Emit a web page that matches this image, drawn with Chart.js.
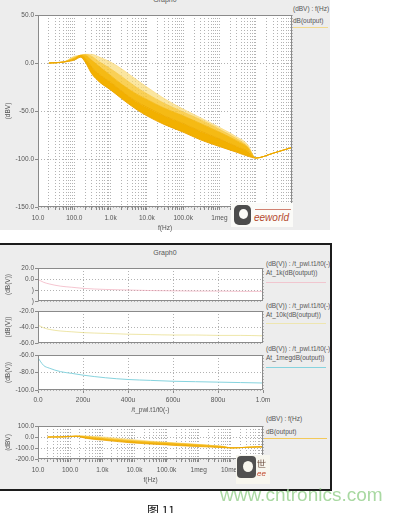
<!DOCTYPE html>
<html>
<head>
<meta charset="utf-8">
<script src="https://cdn.jsdelivr.net/npm/chart.js@4.4.1/dist/chart.umd.min.js"></script>
<style>
html, body { margin: 0; padding: 0; background: #fff; }
body { position: relative; width: 404px; height: 513px; overflow: hidden; font-family: 'Liberation Sans', Arial, sans-serif; }
canvas { position: absolute; left: 0; }
.txt { position: absolute; font-size: 6.5px; line-height: 8px; white-space: nowrap; color: #555; }
.swatch { position: absolute; height: 1px; }
</style>
</head>
<body>

<!-- AC sweep panel -->
<div style="position:absolute;left:0;top:0;width:330px;height:230px;background:#ededed"></div>
<div class="txt" style="left:140px;top:-4px;width:50px;text-align:center;font-size:7px">Graph0</div>
<div class="txt" style="left:293px;top:5px">(dBV) : f(Hz)</div>
<div class="txt" style="left:293px;top:17px">dB(output)</div>
<div class="swatch" style="left:293px;top:27px;width:35px;background:#f1d98f"></div>
<canvas id="acMain" width="330" height="232" style="top:0"></canvas>

<!-- parametric sweep panel -->
<div style="position:absolute;left:0;top:243px;width:330px;height:244px;background:#ededed;border-top:2px solid #1c1c1c;border-right:2px solid #1c1c1c;border-bottom:2px solid #1c1c1c"></div>
<div class="txt" style="left:140px;top:249px;width:50px;text-align:center;font-size:7px">Graph0</div>

<div class="txt" style="left:266px;top:260px">(dB(V)) : /t_pwl.t1/t0(-)</div>
<div class="txt" style="left:266px;top:269px">At_1k(dB(output))</div>
<div class="swatch" style="left:266px;top:282px;width:60px;background:#f1c6cf"></div>

<div class="txt" style="left:266px;top:302px">(dB(V)) : /t_pwl.t1/t0(-)</div>
<div class="txt" style="left:266px;top:311px">At_10k(dB(output))</div>
<div class="swatch" style="left:266px;top:323px;width:60px;background:#eee6b0"></div>

<div class="txt" style="left:266px;top:345px">(dB(V)) : /t_pwl.t1/t0(-)</div>
<div class="txt" style="left:266px;top:354px">At_1megdB(output))</div>
<div class="swatch" style="left:266px;top:367px;width:60px;background:#86d3de"></div>

<div class="txt" style="left:266px;top:415px">(dBV) : f(Hz)</div>
<div class="txt" style="left:266px;top:428px">dB(output)</div>
<div class="swatch" style="left:263px;top:438px;width:64px;background:#f3c95a"></div>

<canvas id="at1kPlot" width="300" height="50" style="top:258px"></canvas>
<canvas id="at10kPlot" width="300" height="50" style="top:301px"></canvas>
<canvas id="at1megPlot" width="300" height="69" style="top:345px"></canvas>
<canvas id="acSmall" width="300" height="68" style="top:416px"></canvas>

<!-- site badges -->
<div style="position:absolute;left:231px;top:203px;width:62px;height:24px;background:#fbfbf8">
  <div style="position:absolute;left:3px;top:2px;width:17px;height:20px;background:#4d4d4d;border-radius:5px"></div>
  <div style="position:absolute;left:8px;top:6px;width:9px;height:10px;background:#fbfbf8;border-radius:50%"></div>
  <div style="position:absolute;left:24px;top:6px;width:36px;height:1px;background:#d08070"></div>
  <div style="position:absolute;left:23px;top:9px;font:italic 10px 'Liberation Sans',Arial,sans-serif;color:#b4492c;line-height:12px">eeworld</div>
</div>
<div style="position:absolute;left:236px;top:455px;width:34px;height:29px;background:#f7f6ee">
  <div style="position:absolute;left:1px;top:1px;width:19px;height:22px;background:#505050;border-radius:4px"></div>
  <div style="position:absolute;left:7px;top:6px;width:10px;height:11px;background:#f7f6ee;border-radius:50%"></div>
  <div style="position:absolute;left:21px;top:4px;font:9px 'Liberation Sans',Arial,sans-serif;color:#6a4a3a;line-height:10px">&#x4e16;</div>
  <div style="position:absolute;left:21px;top:14px;font:italic 8px 'Liberation Sans',Arial,sans-serif;color:#c0452a;line-height:10px">ee</div>
</div>

<div style="position:absolute;left:220px;top:484px;font-size:19px;line-height:22px;color:#a9d9a2;white-space:nowrap;font-family:'Liberation Sans',Arial,sans-serif">www.cntronics.com</div>
<div style="position:absolute;left:147px;top:503px;font-size:12px;line-height:14px;color:#111;white-space:nowrap;font-family:'Noto Sans CJK SC',sans-serif">图 11</div>

<script>
// Frequency sweep (Monte Carlo runs of the output response, dBV)
const freqHz   = [20, 50, 100, 150, 200, 300, 500, 1e3, 2e3, 5e3, 1e4, 3e4, 1e5, 3e5, 1e6, 3e6, 6e6, 1e7, 3e7, 1e8];
const runLow   = [0, 1, 3, 6, 1, -11, -20, -28, -37, -48, -55, -64, -72, -80, -87, -93, -97, -99, -94, -88];
const runMidLo = [0, 1, 4, 8, 5, -4, -12, -20, -29, -40, -46, -55, -63, -71, -79, -87, -92, -99, -94, -88];
const runMid   = [0, 1, 5, 8, 8, 3, -4, -13, -22, -32, -38, -47, -55, -63, -72, -81, -88, -99, -94, -88];
const runMidHi = [0, 1, 6, 8, 9, 7, 1, -6, -14, -25, -32, -42, -51, -59, -69, -79, -87, -99, -94, -88];
const runHigh  = [0, 1, 7, 8, 9, 9, 6, 1, -6, -17, -25, -37, -48, -57, -67, -77, -85, -99, -94, -88];

// Parametric sweep of /t_pwl.t1/t0 (seconds) and the output level at three frequencies
const sweepT = [0, 1e-5, 2.5e-5, 5e-5, 1e-4, 1.5e-4, 2e-4, 3e-4, 4e-4, 5e-4, 6e-4, 7e-4, 8e-4, 9e-4, 1e-3];
const at1k   = [-1, -3, -6, -9, -13, -15, -17, -19, -20, -21, -21.5, -22, -22, -22.5, -22.5];
const at10k  = [-38, -39, -41, -43, -45, -46, -47, -48, -49, -49.5, -50, -50, -50.5, -50.5, -51];
const at1meg = [-63, -67, -72, -75, -79, -81, -83, -86, -88, -89, -90, -90.5, -91, -91.5, -92];

// Axis ticks and their labels (the last decade carries no label)
const decadeTicks  = [10, 100, 1e3, 1e4, 1e5, 1e6, 1e7, 1e8];
const decadeLabels = ['10.0', '100.0', '1.0k', '10.0k', '100.0k', '1meg', '10meg', ''];
const sweepTicks   = [0, 2e-4, 4e-4, 6e-4, 8e-4, 1e-3];
const sweepLabels  = ['0.0', '200u', '400u', '600u', '800u', '1.0m'];
const acMainTicks  = [50, 0, -50, -100, -150];
const acMainLabels = ['50.0', '0.0', '-50.0', '-100.0', '-150.0'];
const at1kTicks    = [20, 0, -20, -40];
const at1kLabels   = ['20.0', '0.0', ')', ')'];
const at10kTicks   = [-20, -40, -60];
const at10kLabels  = ['-20.0', '-40.0', '-60.0'];
const at1megTicks  = [-60, -80, -100];
const at1megLabels = ['-60.0', '-80.0', '-100.0'];
const acSmallTicks = [100, 0, -100, -200];
const acSmallLabels = ['100.0', '0.0', '-100.0', '-200.0'];

const FONT = { family: "'Liberation Sans', Arial, sans-serif", size: 6.5 };
const INK = '#555';
const FRAME = '#8a8a8a';
const GRID = '#b2b2b2';

// white plot background + grey frame round the plot area
const plotFrame = {
  id: 'plotFrame',
  beforeDraw(chart) {
    const a = chart.chartArea, c = chart.ctx;
    c.save();
    c.fillStyle = '#fff';
    c.fillRect(a.left, a.top, a.right - a.left, a.bottom - a.top);
    c.restore();
  },
  afterDraw(chart) {
    const a = chart.chartArea, c = chart.ctx;
    c.save();
    c.strokeStyle = FRAME;
    c.lineWidth = 1;
    c.strokeRect(Math.round(a.left) + 0.5, Math.round(a.top) + 0.5,
                 Math.round(a.right - a.left) - 1, Math.round(a.bottom - a.top) - 1);
    c.restore();
  }
};

function decadeGrid() {
  const out = [];
  decadeTicks.forEach((d, i) => {
    out.push({ value: d });
    if (i < decadeTicks.length - 1) for (let m = 2; m < 10; m++) out.push({ value: d * m });
  });
  return out;
}

function logX(height) {
  return {
    type: 'logarithmic', min: 10, max: 1e8,
    afterBuildTicks: s => { s.ticks = decadeGrid(); },
    afterFit: s => { s.height = height; },
    ticks: {
      autoSkip: false, maxRotation: 0, minRotation: 0, padding: 4, font: FONT, color: INK,
      callback: v => { const i = decadeTicks.indexOf(v); return i < 0 ? '' : decadeLabels[i]; }
    },
    grid: { color: GRID, tickLength: 3, tickColor: FRAME },
    border: { display: false, dash: [1, 2] },
    title: { display: true, text: 'f(Hz)', font: FONT, color: INK, padding: { top: 0, bottom: 0 } }
  };
}

function timeX(show, height) {
  return {
    type: 'linear', min: 0, max: 1e-3,
    afterBuildTicks: s => { s.ticks = sweepTicks.map(v => ({ value: v })); },
    afterFit: s => { s.height = height; },
    ticks: {
      display: show, autoSkip: false, maxRotation: 0, minRotation: 0, padding: 3, font: FONT, color: INK,
      callback: v => { const i = sweepTicks.indexOf(v); return i < 0 ? '' : sweepLabels[i]; }
    },
    grid: { color: GRID, tickLength: 3, tickColor: FRAME, drawTicks: show },
    border: { display: false, dash: [1, 2] },
    title: { display: show, text: '/t_pwl.t1/t0(-)', font: FONT, color: INK, padding: { top: 0, bottom: 0 } }
  };
}

function linY(vals, labels, title) {
  return {
    type: 'linear', min: Math.min(...vals), max: Math.max(...vals),
    afterBuildTicks: s => { s.ticks = vals.map(v => ({ value: v })); },
    afterFit: s => { s.width = 38; },
    ticks: {
      autoSkip: false, padding: 1, font: FONT, color: INK,
      callback: v => { const i = vals.indexOf(v); return i < 0 ? '' : labels[i]; }
    },
    grid: { color: GRID, tickLength: 3, tickColor: FRAME },
    border: { display: false, dash: [1, 2] },
    title: { display: true, text: title, font: FONT, color: INK, padding: { top: 4, bottom: 0 } }
  };
}

function pts(xs, ys) { return xs.map((x, i) => ({ x, y: ys[i] })); }

// stacked band of Monte Carlo runs, densest near the lowest run
function runDatasets(width) {
  const runs = [runLow, runMidLo, runMid, runMidHi, runHigh];
  const lines = ['rgba(236,165,0,0.95)', 'rgba(240,172,0,0.9)', 'rgba(244,184,20,0.85)', 'rgba(248,202,70,0.75)', 'rgba(250,216,120,0.65)'];
  const fills = [false, '#f2b000', '#f5ba14', 'rgba(248,200,58,0.85)', 'rgba(250,219,120,0.7)'];
  return runs.map((r, i) => ({
    data: pts(freqHz, r),
    borderColor: lines[i],
    borderWidth: width,
    backgroundColor: fills[i] || 'transparent',
    fill: i === 0 ? false : '-1',
    pointRadius: 0,
    cubicInterpolationMode: 'monotone'
  }));
}

function baseOptions(pad) {
  return {
    responsive: false, animation: false, events: [],
    layout: { padding: pad },
    plugins: { legend: { display: false }, tooltip: { enabled: false } }
  };
}

function lineSet(xs, ys, color) {
  return [{ data: pts(xs, ys), borderColor: color, borderWidth: 1, pointRadius: 0, fill: false, cubicInterpolationMode: 'monotone' }];
}

new Chart(document.getElementById('acMain'), {
  type: 'line',
  data: { datasets: runDatasets(1) },
  options: Object.assign(baseOptions({ top: 15, right: 38, left: 0, bottom: 0 }), {
    scales: { x: logX(25), y: linY(acMainTicks, acMainLabels, '(dBV)') }
  }),
  plugins: [plotFrame]
});

new Chart(document.getElementById('at1kPlot'), {
  type: 'line',
  data: { datasets: lineSet(sweepT, at1k, 'rgba(236,150,170,0.55)') },
  options: Object.assign(baseOptions({ top: 10, right: 37, left: 0, bottom: 7 }), {
    scales: { x: timeX(false, 0), y: linY(at1kTicks, at1kLabels, '(dB(V))') }
  }),
  plugins: [plotFrame]
});

new Chart(document.getElementById('at10kPlot'), {
  type: 'line',
  data: { datasets: lineSet(sweepT, at10k, 'rgba(226,214,110,0.6)') },
  options: Object.assign(baseOptions({ top: 10, right: 37, left: 0, bottom: 8 }), {
    scales: { x: timeX(false, 0), y: linY(at10kTicks, at10kLabels, '(dB(V))') }
  }),
  plugins: [plotFrame]
});

new Chart(document.getElementById('at1megPlot'), {
  type: 'line',
  data: { datasets: lineSet(sweepT, at1meg, '#86d3de') },
  options: Object.assign(baseOptions({ top: 10, right: 37, left: 0, bottom: 0 }), {
    scales: { x: timeX(true, 24), y: linY(at1megTicks, at1megLabels, '(dB(V))') }
  }),
  plugins: [plotFrame]
});

new Chart(document.getElementById('acSmall'), {
  type: 'line',
  data: { datasets: runDatasets(0.8) },
  options: Object.assign(baseOptions({ top: 10, right: 37, left: 0, bottom: 0 }), {
    scales: { x: logX(25), y: linY(acSmallTicks, acSmallLabels, '(dBV)') }
  }),
  plugins: [plotFrame]
});
</script>
</body>
</html>
